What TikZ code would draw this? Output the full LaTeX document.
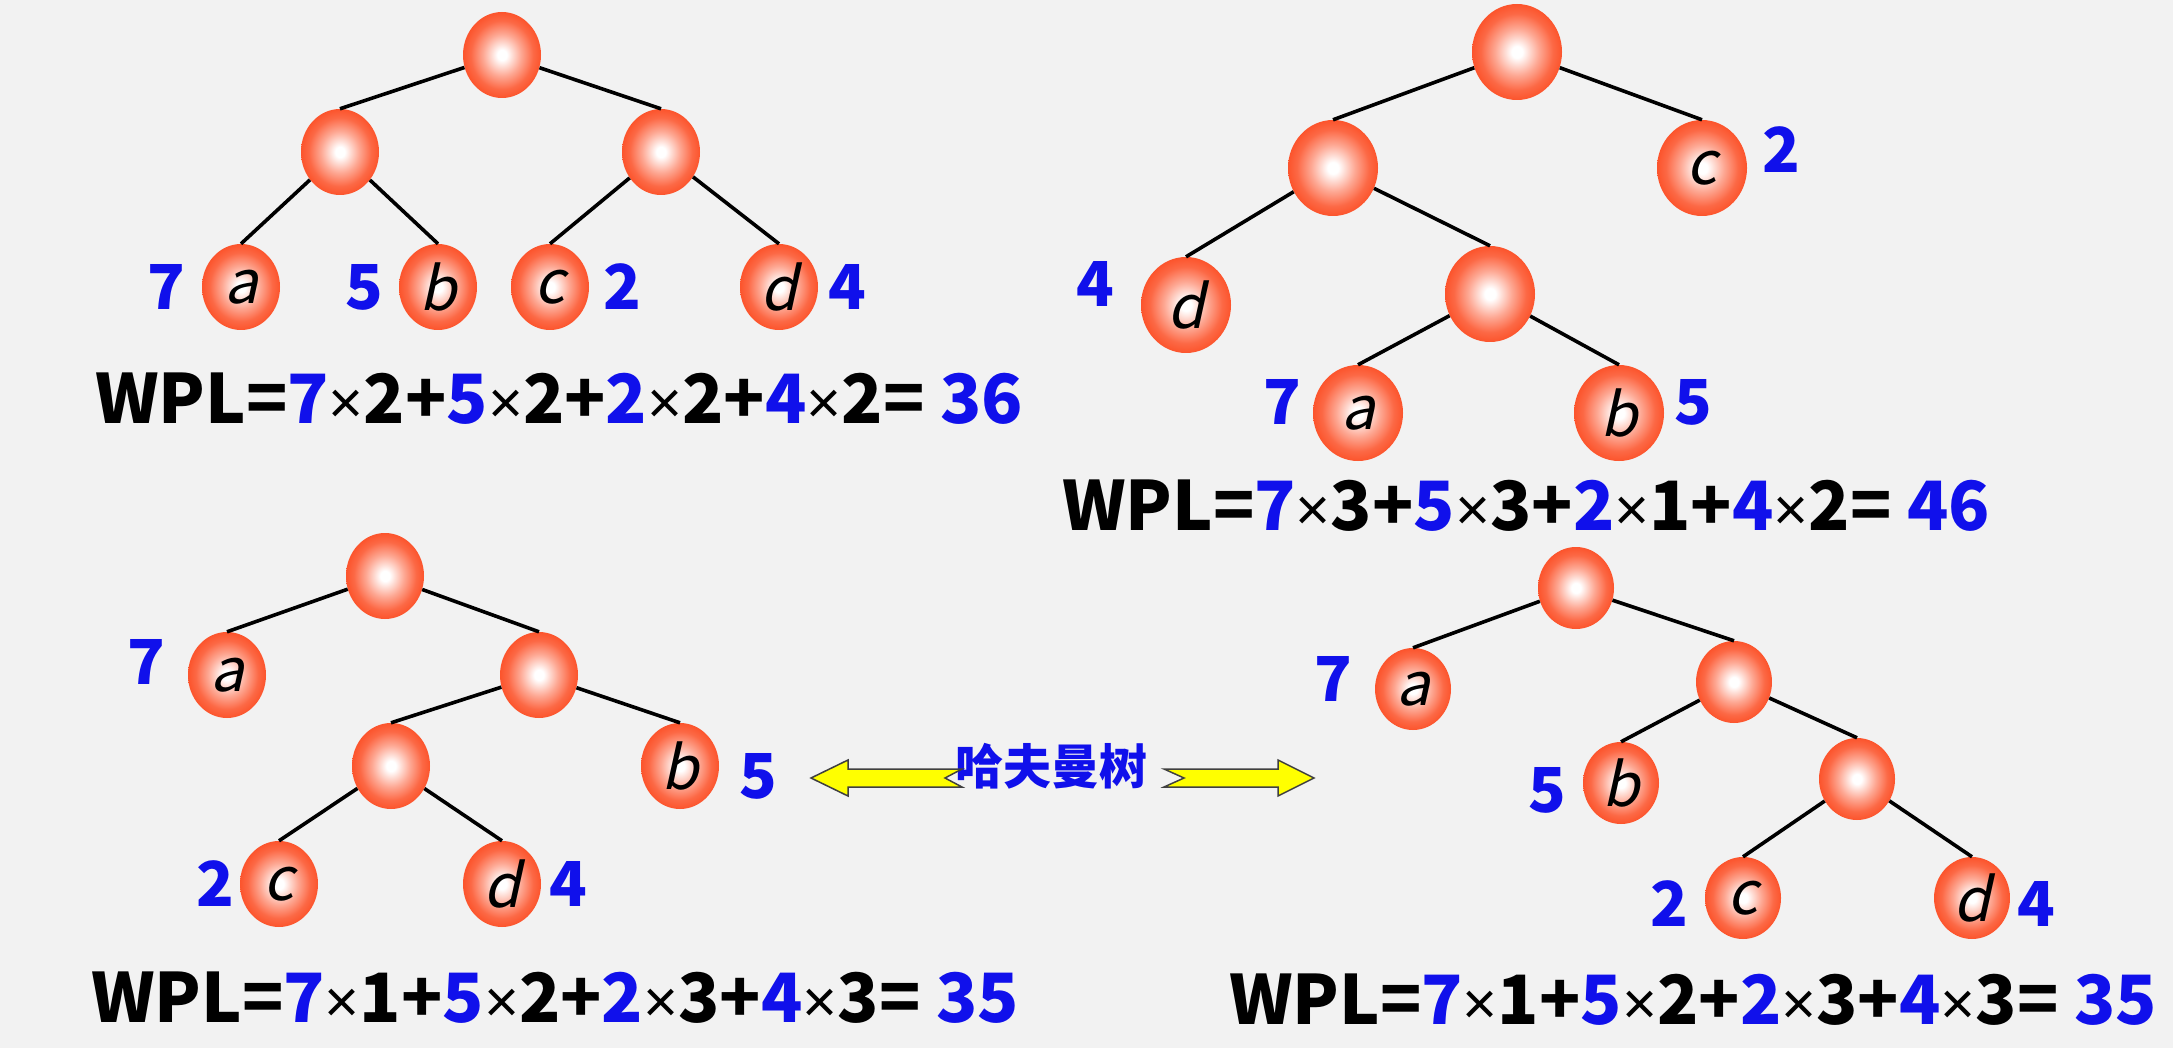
\documentclass[tikz,border=0pt]{standalone}
\usepackage{fontspec}
\setmainfont{Noto Sans CJK SC}
\newfontfamily\leaffont[FakeSlant=0.22]{Noto Sans CJK SC}
\newfontfamily\timesfont{Liberation Sans}
\usetikzlibrary{shapes.geometric}
\definecolor{bg}{RGB}{242,242,242}
\definecolor{ballc}{RGB}{252,84,44}
\definecolor{wblue}{RGB}{16,16,235}
\definecolor{arrowy}{RGB}{255,255,0}
\pgfdeclareradialshading{ballshade}{\pgfpoint{0bp}{0bp}}{color(0bp)=(white); color(3bp)=(white); color(12bp)=(ballc!50!white); color(20bp)=(ballc!88!white); color(25bp)=(ballc); color(50bp)=(ballc)}
\newcommand{\tm}{{\timesfont\mdseries\fontsize{60}{60}\selectfont ×}}
\newcommand{\bl}[1]{\textcolor{wblue}{#1}}
\tikzset{
  tn/.style={ellipse, shading=ballshade, inner sep=0pt, minimum width=78pt, minimum height=86pt, font=\leaffont\fontsize{60}{60}\selectfont},
  tnbig/.style={tn, minimum width=90pt, minimum height=96pt},
  tnsmall/.style={tn, minimum width=76pt, minimum height=82pt},
  edge/.style={line width=3.6pt, black},
  wlab/.style={text=wblue, inner sep=0pt, font=\bfseries\fontsize{62}{62}\selectfont},
  wpl/.style={inner sep=0pt, font=\bfseries\fontsize{68}{68}\selectfont},
  harrow/.style={fill=arrowy, draw=black!75, line width=1.5pt, line join=miter},
  title/.style={text=wblue, inner sep=0pt, font=\bfseries\fontsize{48}{48}\selectfont}
}
\begin{document}
\begin{tikzpicture}[x=1pt,y=-1pt]
\fill[bg] (0,0) rectangle (2173,1048);
\useasboundingbox (0,0) rectangle (2173,1048);
% ---------- tree 1 (top left)
\node[tn] (r1) at (502,55) {};
\node[tn] (l1) at (340,152) {};
\node[tn] (m1) at (661,152) {};
\node[tn] (a1) at (241,287) {a};
\node[tn] (b1) at (438,287) {b};
\node[tn] (c1) at (550,287) {c};
\node[tn] (d1) at (779,287) {d};
\draw[edge] (r1) -- (l1.north); \draw[edge] (r1) -- (m1.north);
\draw[edge] (l1) -- (a1.north); \draw[edge] (l1) -- (b1.north);
\draw[edge] (m1) -- (c1.north); \draw[edge] (m1) -- (d1.north);
\node[wlab] (wa1) at (166,287) {7};
\node[wlab] (wb1) at (364,287) {5};
\node[wlab] (wc1) at (622,287) {2};
\node[wlab] (wd1) at (847,287) {4};
\node[wpl] (wpl1) at (559,399) {WPL=\bl{7}\tm2+\bl{5}\tm2+\bl{2}\tm2+\bl{4}\tm2= \bl{36}};
% ---------- tree 2 (top right)
\node[tnbig] (r2) at (1517,52) {};
\node[tnbig] (l2) at (1333,168) {};
\node[tnbig] (c2) at (1702,168) {c};
\node[tnbig] (d2) at (1186,305) {d};
\node[tnbig] (m2) at (1490,294) {};
\node[tnbig] (a2) at (1358,413) {a};
\node[tnbig] (b2) at (1619,413) {b};
\draw[edge] (r2) -- (l2.north); \draw[edge] (r2) -- (c2.north);
\draw[edge] (l2) -- (d2.north); \draw[edge] (l2) -- (m2.north);
\draw[edge] (m2) -- (a2.north); \draw[edge] (m2) -- (b2.north);
\node[wlab] (wc2) at (1781,150) {2};
\node[wlab] (wd2) at (1095,284) {4};
\node[wlab] (wa2) at (1282,402) {7};
\node[wlab] (wb2) at (1693,402) {5};
\node[wpl] (wpl2) at (1526,506) {WPL=\bl{7}\tm3+\bl{5}\tm3+\bl{2}\tm1+\bl{4}\tm2= \bl{46}};
% ---------- tree 3 (bottom left)
\node[tn] (r3) at (385,576) {};
\node[tn] (a3) at (227,675) {a};
\node[tn] (m3) at (539,675) {};
\node[tn] (n3) at (391,766) {};
\node[tn] (b3) at (680,766) {b};
\node[tn] (c3) at (279,884) {c};
\node[tn] (d3) at (502,884) {d};
\draw[edge] (r3) -- (a3.north); \draw[edge] (r3) -- (m3.north);
\draw[edge] (m3) -- (n3.north); \draw[edge] (m3) -- (b3.north);
\draw[edge] (n3) -- (c3.north); \draw[edge] (n3) -- (d3.north);
\node[wlab] (wa3) at (146,662) {7};
\node[wlab] (wb3) at (758,776) {5};
\node[wlab] (wc3) at (215,884) {2};
\node[wlab] (wd3) at (568,884) {4};
\node[wpl] (wpl3) at (555,998) {WPL=\bl{7}\tm1+\bl{5}\tm2+\bl{2}\tm3+\bl{4}\tm3= \bl{35}};
% ---------- tree 4 (bottom right)
\node[tnsmall] (r4) at (1576,588) {};
\node[tnsmall] (a4) at (1413,689) {a};
\node[tnsmall] (m4) at (1734,682) {};
\node[tnsmall] (b4) at (1621,783) {b};
\node[tnsmall] (n4) at (1857,779) {};
\node[tnsmall] (c4) at (1743,898) {c};
\node[tnsmall] (d4) at (1972,898) {d};
\draw[edge] (r4) -- (a4.north); \draw[edge] (r4) -- (m4.north);
\draw[edge] (m4) -- (b4.north); \draw[edge] (m4) -- (n4.north);
\draw[edge] (n4) -- (c4.north); \draw[edge] (n4) -- (d4.north);
\node[wlab] (wa4) at (1333,679) {7};
\node[wlab] (wb4) at (1547,790) {5};
\node[wlab] (wc4) at (1669,904) {2};
\node[wlab] (wd4) at (2036,904) {4};
\node[wpl] (wpl4) at (1693,1000) {WPL=\bl{7}\tm1+\bl{5}\tm2+\bl{2}\tm3+\bl{4}\tm3= \bl{35}};
% ---------- Huffman tree label with double arrows
\node[title] (hf) at (1051,766) {哈夫曼树};
\draw[harrow] (811,778) -- (848,760) -- (848,769) -- (962,769) -- (945,778) -- (962,787) -- (848,787) -- (848,796) -- cycle;
\draw[harrow] (1314,778) -- (1278,760) -- (1278,769) -- (1164,769) -- (1184,778) -- (1164,787) -- (1278,787) -- (1278,796) -- cycle;
\end{tikzpicture}
\end{document}
